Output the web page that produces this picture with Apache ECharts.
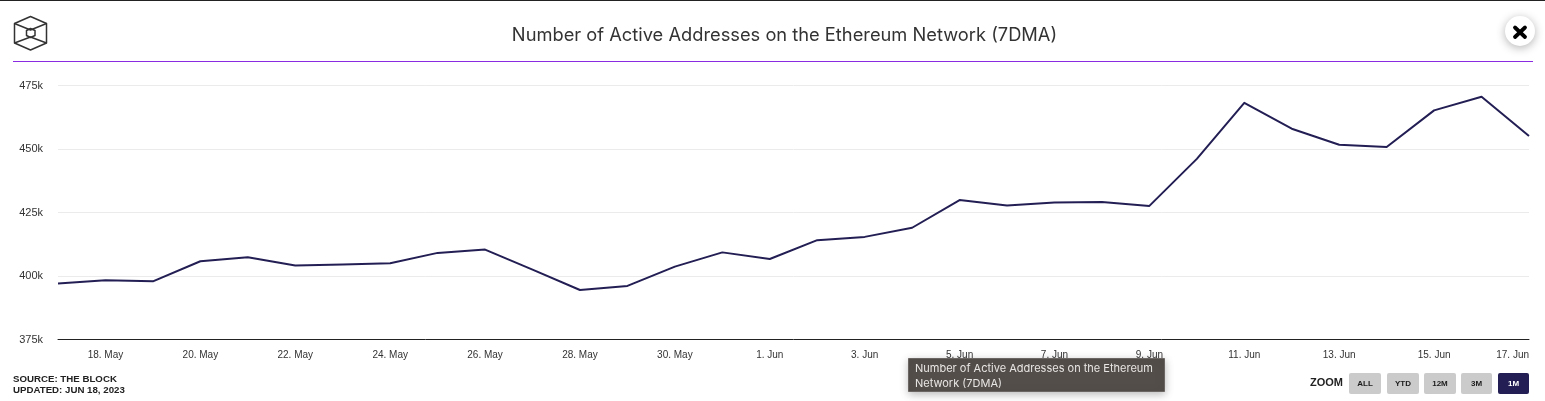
<!DOCTYPE html>
<html><head><meta charset="utf-8">
<style>html,body{margin:0;padding:0;background:#fff}#c{width:1545px;height:401px}</style>
<script src="https://cdn.jsdelivr.net/npm/echarts@6/dist/echarts.min.js"></script>
</head><body><div id="c"></div>
<script>
const categories = ['17. May','18. May','19. May','20. May','21. May','22. May','23. May','24. May','25. May','26. May','27. May','28. May','29. May','30. May','31. May','1. Jun','2. Jun','3. Jun','4. Jun','5. Jun','6. Jun','7. Jun','8. Jun','9. Jun','10. Jun','11. Jun','12. Jun','13. Jun','14. Jun','15. Jun','16. Jun','17. Jun'];
const activeAddresses = [397.0,398.3,397.9,405.8,407.4,404.1,404.5,405.0,409.1,410.4,402.5,394.5,396.1,403.7,409.3,406.7,414.1,415.4,419.0,429.9,427.8,428.9,429.1,427.6,446.1,468.2,458.0,451.7,450.8,465.2,470.6,455.1];
const titleText = 'Number of Active Addresses on the Ethereum Network (7DMA)';
const tipText = 'Number of Active Addresses on the Ethereum\nNetwork (7DMA)';
const zoomButtons = ['ALL','YTD','12M','3M','1M'];
const navy = '#231f54';
const sans = '"Liberation Sans", Arial, sans-serif';

const chart = echarts.init(document.getElementById('c'), null, {renderer:'canvas'});

const btnX = [1349,1387,1424,1461,1498];
const btnW = [32,32,32,31,31];
const buttons = [];
zoomButtons.forEach((b,i)=>{
  const on = i===4;
  buttons.push({type:'rect',shape:{x:btnX[i],y:373,width:btnW[i],height:21,r:2},style:{fill:on?navy:'#cbcbcb'},z:10});
  buttons.push({type:'text',x:btnX[i]+btnW[i]/2,y:384,style:{text:b,fill:on?'#fff':'#1c1c1c',font:'bold 8px '+sans,align:'center',verticalAlign:'middle'},z:11});
});
const ls = {stroke:'#333',lineWidth:1.5,fill:'none',lineJoin:'round'};
const logoShapes = [
  {type:'polygon',pts:[[14.5,23.5],[30.5,16.5],[46.5,23.5],[46.5,43],[30.5,50],[14.5,43]]},
  {type:'polyline',pts:[[14.5,23.5],[30.5,30],[46.5,23.5]]},
  {type:'polyline',pts:[[14.5,43],[30.5,37],[46.5,43]]},
  {type:'polygon',pts:[[26.5,30.5],[30.5,28.5],[35,30.5],[35,35.5],[30.5,37.5],[26.5,35.5]]}
];
const logo = logoShapes.map(s=>({type:s.type,shape:{points:s.pts},style:ls,z:10}));

chart.setOption({
  animation:false,
  backgroundColor:'#fff',
  grid:{left:58,right:16,top:85.5,height:254,containLabel:false},
  tooltip:{show:false},
  xAxis:{type:'category',data:categories,boundaryGap:false,
    axisLine:{show:true,lineStyle:{color:'#222',width:1}},
    axisTick:{show:false},
    axisLabel:{interval:(i)=>i%2===1,alignMaxLabel:'right',margin:11,fontFamily:sans,fontSize:10,color:'#333'},
    splitLine:{show:false}},
  yAxis:{type:'value',min:375,max:475,interval:25,
    axisLine:{show:false},axisTick:{show:false},
    axisLabel:{formatter:'{value}k',margin:15,padding:[3,0,0,0],fontFamily:sans,fontSize:11,color:'#333'},
    splitLine:{lineStyle:{color:'#ebebeb',width:1}}},
  series:[{name:titleText,type:'line',data:activeAddresses,symbol:'none',smooth:false,clip:true,lineStyle:{color:navy,width:2,join:'round'}}],
  graphic:[
    {type:'text',x:784.5,y:35.5,style:{text:titleText,fill:'#333',font:'400 18.3px Inter, sans-serif',align:'center',verticalAlign:'middle'},z:10},
    {type:'rect',shape:{x:0,y:0,width:1545,height:1},style:{fill:'#222'},z:10},
    {type:'rect',shape:{x:13,y:61,width:1520,height:1},style:{fill:'#8a2be2'},z:10},
    ...logo,
    {type:'text',x:13,y:373.5,style:{text:'SOURCE: THE BLOCK\nUPDATED: JUN 18, 2023',fill:'#222',font:'bold 9.7px '+sans,lineHeight:11},z:10},
    {type:'text',x:1310,y:383,style:{text:'ZOOM',fill:'#222',font:'bold 11px '+sans,verticalAlign:'middle'},z:10},
    ...buttons,
    {type:'circle',shape:{cx:1520,cy:31,r:15},style:{fill:'#fff',shadowBlur:10,shadowColor:'rgba(0,0,0,0.3)',shadowOffsetY:2},z:20},
    {type:'line',shape:{x1:1515,y1:27.5,x2:1525,y2:37},style:{stroke:'#000',lineWidth:3.8,lineCap:'round'},z:21},
    {type:'line',shape:{x1:1525,y1:27.5,x2:1515,y2:37},style:{stroke:'#000',lineWidth:3.8,lineCap:'round'},z:21},
    {type:'rect',shape:{x:908.5,y:358.5,width:256,height:33},style:{fill:'#544e4b',stroke:'#6b6663',lineWidth:1,shadowBlur:8,shadowColor:'rgba(0,0,0,0.25)',shadowOffsetY:2},z:30},
    {type:'text',x:915,y:361.5,style:{text:tipText,fill:'#e8e6e4',font:'11px "Inter", "Liberation Sans", sans-serif',lineHeight:15},z:31}
  ]
});
</script></body></html>
